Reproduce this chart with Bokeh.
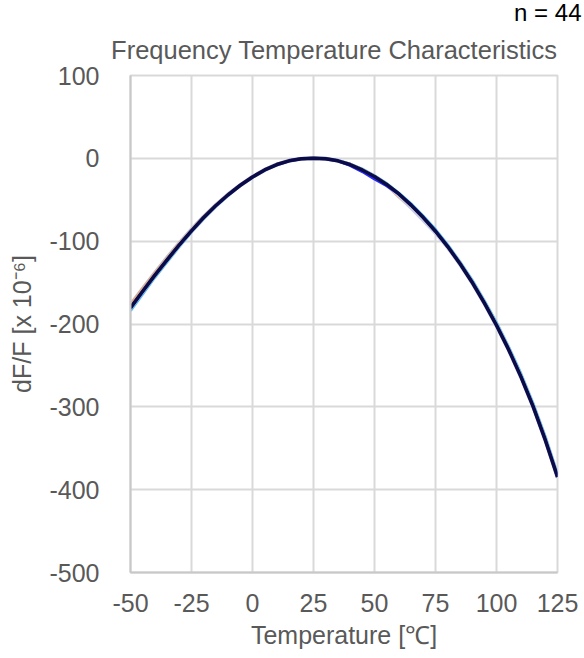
from bokeh.plotting import figure
from bokeh.models import Range1d, FixedTicker, Title
from bokeh.embed import file_html
from bokeh.resources import INLINE

# ---- data ----
temps = [-50, -45, -40, -35, -30, -25, -20, -15, -10, -5, 0, 5, 10, 15, 20, 25,
         30, 35, 40, 45, 50, 55, 60, 65, 70, 75, 80, 85, 90, 95, 100, 105, 110, 115, 120, 125]

navy_curve = [-180.5, -160.5, -141, -122.5, -104.5, -87.5, -71.5, -57, -44, -32.5, -22.5, -14, -7.5, -3, -0.5, 0,
              -0.5, -3, -7.5, -14, -22, -31.5, -43, -56.5, -71.5, -88, -106.5, -127, -149.5, -174.5,
              -201.5, -231, -263.5, -299.5, -340, -384.5]
lightblue_curve = [-184, -163.5, -143.5, -125, -106.5, -89, -73, -58, -45, -33, -23, -14.5, -8, -3, -0.5, 0,
                   0, -2.5, -7, -13, -21, -30.5, -42, -55, -70, -86, -104.5, -125, -147, -172,
                   -198.5, -228, -260, -296, -336, -381]
gray_curve = [-176.5, -157, -138, -119.5, -102, -85.5, -70, -56, -43, -32, -22, -13.5, -7, -2.5, -0.5, 0,
              -0.5, -3, -7.5, -14.5, -22.5, -32, -44, -57.5, -72.5, -89, -107.5, -128, -150.5, -175.5,
              -202.5, -232, -264.5, -300.5, -341, -385.5]
orange_curve = [-177.5, -158, -139, -121, -103, -86.5, -70.5, -56, -43.5, -32, -22, -13.5, -7, -2.5, -0.5, 0,
                -0.5, -3, -7.5, -14, -22, -32.5, -46.5, -59.5, -72.5, -88, -106, -126.5, -149, -174,
                -200.5, -230, -262, -298, -338, -383]
blue_curve = [-180.5, -160.5, -141, -122.5, -104.5, -87.5, -71.5, -57, -44, -32.5, -22.5, -14, -7.5, -3, -0.5, 0,
              -0.5, -3, -8.5, -16, -25, -33, -43, -56.5, -71.5, -88, -106.5, -127, -149.5, -174.5,
              -201.5, -231, -263.5, -299.5, -340, -384.5]
lavender_curve = [-180.5, -160.5, -141, -122.5, -104.5, -87.5, -71.5, -57, -44, -32.5, -22.5, -14, -7.5, -3, -0.5, 0,
                  -0.5, -3, -7.5, -14, -22, -32, -45, -59.5, -74.5, -90, -107, -127, -149.5, -174.5,
                  -201.5, -231, -263.5, -299.5, -340, -384.5]

x_ticks = [-50, -25, 0, 25, 50, 75, 100, 125]
y_ticks = [100, 0, -100, -200, -300, -400, -500]

FONT = "Liberation Sans"
TXT = "#595959"

p = figure(width=584, height=658, output_backend="svg", toolbar_location=None,
           x_range=Range1d(-50, 125), y_range=Range1d(-500, 100),
           min_border_left=130, min_border_top=0, min_border_right=27, min_border_bottom=86)
p.outline_line_color = "#d9d9d9"
p.outline_line_width = 2
p.background_fill_color = "white"
p.border_fill_color = "white"

# outer title line: sample count
p.title.text = "n = 44"
p.title.align = "right"
p.title.offset = -24
p.title.standoff = -8
p.title.text_font = FONT
p.title.text_font_size = "24px"
p.title.text_font_style = "normal"
p.title.text_color = "#000000"

# inner title line: chart title
p.add_layout(Title(text="Frequency Temperature Characteristics", align="right", offset=0,
                   standoff=24, text_font=FONT, text_font_size="25.5px",
                   text_font_style="normal", text_color=TXT), "above")

for ax in (p.xaxis[0], p.yaxis[0]):
    ax.major_label_text_font = FONT
    ax.major_label_text_font_size = "25px"
    ax.major_label_text_color = TXT
    ax.axis_label_text_font = FONT
    ax.axis_label_text_font_size = "25px"
    ax.axis_label_text_font_style = "normal"
    ax.axis_label_text_color = TXT
    ax.major_tick_line_color = None
    ax.minor_tick_line_color = None
    ax.axis_line_color = "#c8c8c8"
    ax.axis_line_width = 2

p.xaxis[0].ticker = FixedTicker(ticks=x_ticks)
p.yaxis[0].ticker = FixedTicker(ticks=y_ticks)
p.xaxis[0].major_label_overrides = {t: str(t) for t in x_ticks}
p.yaxis[0].major_label_overrides = {t: str(t) for t in y_ticks}
p.xaxis[0].major_label_standoff = 15
p.yaxis[0].major_label_standoff = 25
p.xaxis[0].axis_label = "Temperature [\u2103]"
p.yaxis[0].axis_label = "dF/F [x 10\u207b\u2076]"
p.xaxis[0].axis_label_standoff = 6
p.yaxis[0].axis_label_standoff = 10

p.xgrid[0].ticker = FixedTicker(ticks=x_ticks)
p.ygrid[0].ticker = FixedTicker(ticks=y_ticks)
p.xgrid.grid_line_color = "#d9d9d9"
p.ygrid.grid_line_color = "#d9d9d9"
p.xgrid.grid_line_width = 2
p.ygrid.grid_line_width = 2

p.line(temps, gray_curve, line_color="#bfbfbf", line_width=3.5, line_join="round")
p.line(temps, orange_curve, line_color="#f4a460", line_width=3, line_join="round")
p.line(temps, lightblue_curve, line_color="#4fb8ec", line_width=3, line_join="round")
p.line(temps, lavender_curve, line_color="#c9cde3", line_width=4, line_join="round")
p.line(temps, blue_curve, line_color="#2a2aff", line_width=3, line_join="round")
p.line(temps, navy_curve, line_color="#0b0b45", line_width=3.5, line_join="round")

open("out.html", "w").write(file_html(p, INLINE))
